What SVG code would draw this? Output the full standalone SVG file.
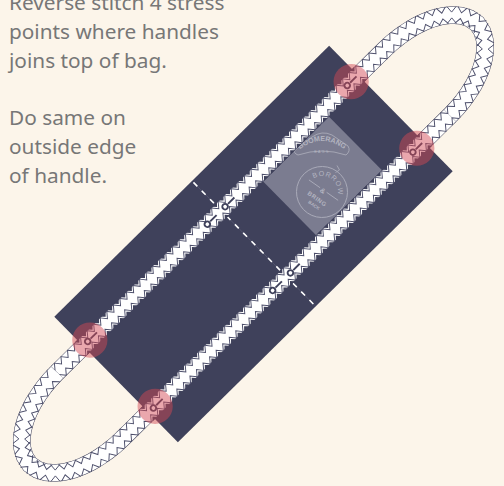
<svg xmlns="http://www.w3.org/2000/svg" width="504" height="486" viewBox="0 0 504 486">
<style>
.t{font-family:"Noto Sans","Open Sans",sans-serif;font-size:20.8px;fill:#777}
.l{font-family:"Liberation Sans",sans-serif;fill:#b3b4c0;text-anchor:middle}
.b{font-weight:bold}
.o{fill:none;stroke:#a9aab8;stroke-width:.9}
.e{fill:none;stroke:#3f415b;stroke-width:17.6}
.w{fill:none;stroke:#fff;stroke-width:16.6}
.h{fill:none;marker-start:url(#tooth);marker-mid:url(#tooth)}
.d{fill:none;marker-start:url(#notch);marker-mid:url(#notch);marker-end:url(#notch)}
.s{fill:#d34753;fill-opacity:.48}
.r{fill:none;stroke:#3f415b;stroke-width:1.9}
</style>
<defs>
<marker id="tooth" markerUnits="userSpaceOnUse" markerWidth="24" markerHeight="24" viewBox="-12 -12 24 24" refX="0" refY="0" orient="auto" overflow="visible">
<path d="M-4.7,-8.6L0,-2.9L4.7,-8.6M-4.7,8.6L0,2.9L4.7,8.6" fill="none" stroke="#4c4e6a" stroke-width=".95"/>
</marker>
<marker id="notch" markerUnits="userSpaceOnUse" markerWidth="24" markerHeight="24" viewBox="-12 -12 24 24" refX="0" refY="0" orient="auto" overflow="visible">
<path d="M-3.4,-9L0,-5.4L3.4,-9ZM-3.4,9L0,5.4L3.4,9Z" fill="#3f415b"/>
</marker>
<path id="half" d="M-230,-46.5h9.2h9.2h9.2h9.2h9.2h9.2h9.2h9.2h9.2h9.2h9.2h9.2h9.2h9.2h9.2h9.2h9.2h9.2h9.2h9.2h9.2h9.2h9.2h9.2h9.2h9.2h9.2h9.2h9.2h9.2h9.2h9.2h9.2h9.2h9.2h9.2h9.2h9.2h9.2h9.2h9.2h9.2h9.2h9.2h9.2h9.2h9.2h9.2h9.2h9.2L239.9,-46.2L249.6,-45.2L259.2,-43.5L268.6,-41.3L277.7,-38.2L286.4,-34.4L294.5,-29.7L301.9,-23.9L308,-16.9L312.2,-9L314,0L312.2,9L308,16.9L301.9,23.9L294.5,29.7L286.4,34.4L277.7,38.2L268.6,41.3L259.2,43.5L249.6,45.2L239.9,46.2L230,46.5"/>
<path id="inbag" d="M-193.2,-46.5h9.2h9.2h9.2h9.2h9.2h9.2h9.2h9.2h9.2h9.2h9.2h9.2h9.2h9.2h9.2h9.2h9.2h9.2h9.2h9.2h9.2h9.2h9.2h9.2h9.2h9.2h9.2h9.2h9.2h9.2h9.2h9.2h9.2h9.2h9.2h9.2h9.2h9.2h9.2h9.2h9.2h9.2"/>
<g id="mark"><circle cx="0" cy="0" r="2.8" class="r"/><path d="M4,0H13" class="r"/></g>
<path id="arch" d="M292,156Q322,126 352,156"/>
<path id="ringtop" d="M-14.5,-6.8A16,16 0 0 1 14.5,-6.8"/>
</defs>
<rect width="504" height="486" fill="#fcf5ea"/>
<g id="caption">
<text class="t" x="9" y="10">Reverse stitch 4 stress</text>
<text class="t" x="9" y="38.5">points where handles</text>
<text class="t" x="9" y="67.5">joins top of bag.</text>
<text class="t" x="9" y="125">Do same on</text>
<text class="t" x="9" y="154">outside edge</text>
<text class="t" x="9" y="182.5">of handle.</text>
</g>
<g transform="translate(253.5 244) rotate(-44.6)">
<g id="bag"><rect x="-193" y="-88" width="386" height="176" fill="#3f415b"/></g>
<g id="panel"><rect x="50.7" y="-38" width="92.5" height="76.5" fill="#7b7c90"/></g>
</g>
<g id="label">
<path class="o" d="M295,150L312,137Q322,130 332,135L348,146Q351,151 346,155Q322,147 298,155Q293,153 295,150Z"/>
<text class="l b" font-size="7.2"><textPath href="#arch" startOffset="50%">BOOMERANG</textPath></text>
<text class="l" x="322" y="153" font-size="3.5" letter-spacing="1.5">BAGS</text>
<g transform="translate(322 192) rotate(35)">
<circle r="25.5" class="o"/>
<text class="l" font-size="7" letter-spacing=".8"><textPath href="#ringtop" startOffset="50%">BORROW</textPath></text>
<path class="o" d="M-17.6,-2.4H-4M4,-2.4H18"/>
<text class="l b" x="0" y="1" font-size="7">&amp;</text>
<text class="l b" x="0" y="10.5" font-size="6" letter-spacing=".5">BRING</text>
<text class="l b" x="1" y="17" font-size="4.5">BACK</text>
</g>
<path class="o" d="M337,165.5L339.5,170L335.5,172.5"/>
</g>
<g transform="translate(253.5 244) rotate(-44.6)">
<g id="seam">
<path d="M.5,-86V87" fill="none" stroke="#5d5f78" stroke-width=".6"/>
<path d="M.5,-86V87" fill="none" stroke="#fff" stroke-width="1.6" stroke-dasharray="5.5 6.3"/>
</g>
<g id="handles">
<g><use href="#half" class="e"/><use href="#half" class="w"/><use href="#half" class="h"/><use href="#inbag" class="d"/></g>
<g transform="rotate(180)"><use href="#half" class="e"/><use href="#half" class="w"/><use href="#half" class="h"/><use href="#inbag" class="d"/></g>
</g>
<g id="stitches">
<use href="#mark" x="178" y="-47"/><use href="#mark" x="178" y="46.5"/>
<use href="#mark" x="-186.5" y="-47"/><use href="#mark" x="-186.5" y="46.5"/>
<use href="#mark" x="-19" y="-46.5"/><use href="#mark" x="-19" y="46.5"/>
<use href="#mark" x="6" y="-46.5"/><use href="#mark" x="6" y="46.5"/>
</g>
<g id="stress">
<circle class="s" cx="183.5" cy="-47" r="17.6"/><circle class="s" cx="183.5" cy="46.5" r="17.6"/>
<circle class="s" cx="-184" cy="-46.5" r="17.6"/><circle class="s" cx="-184" cy="46.5" r="17.6"/>
</g>
</g>
</svg>
